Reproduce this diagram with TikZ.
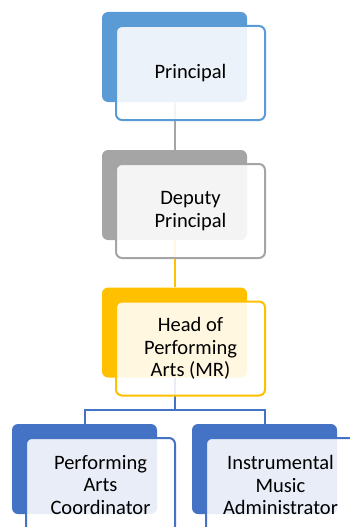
\documentclass[tikz,border=0pt]{standalone}
\usepackage{fontspec}
\setmainfont{Carlito}
\definecolor{prinBlue}{HTML}{5B9BD5}
\definecolor{depGray}{HTML}{A5A5A5}
\definecolor{headGold}{HTML}{FFC000}
\definecolor{staffBlue}{HTML}{4472C4}
\tikzset{
	back box/.style={rectangle, rounded corners=6, draw=none, fill=#1,
		minimum width=145, minimum height=90, inner sep=0},
	front box/.style={rectangle, rounded corners=6, draw=#1, line width=2,
		fill=white, fill opacity=0.88, text opacity=1,
		minimum width=149, minimum height=94, inner sep=0, align=center,
		font=\fontsize{20.5}{22.5}\selectfont},
	link/.style={draw=#1, line width=2}}

\begin{document}
\begin{tikzpicture}[x=1pt,y=1pt,yscale=-1,xscale=1]
	\useasboundingbox (0,0) rectangle (350,527);

	%Shape: back boxes
	\node[back box=prinBlue] (prinB) at (174.5,57) {};
	\node[back box=depGray] (depB) at (174.5,195) {};
	\node[back box=headGold] (headB) at (174.5,332.5) {};
	\node[back box=staffBlue] (pacB) at (84.5,469) {};
	\node[back box=staffBlue] (imaB) at (264.5,469) {};

	%Straight Lines
	\draw[link=depGray] (prinB.south) -- (depB.north);
	\draw[link=headGold] (depB.south) -- (headB.north);
	\coordinate (bar) at (174.5,410);
	\draw[link=staffBlue] (headB.south) -- (bar) -| (pacB.north);
	\draw[link=staffBlue] (bar) -| (imaB.north);

	% Text Node
	\node[front box=prinBlue] (prin) at (190.5,73) {Principal};
	% Text Node
	\node[front box=depGray] (dep) at (190.5,211) {Deputy\\Principal};
	% Text Node
	\node[front box=headGold] (head) at (190.5,348.5) {Head of\\Performing\\Arts (MR)};
	% Text Node
	\node[front box=staffBlue] (pac) at (100.5,485) {Performing\\Arts\\Coordinator};
	% Text Node
	\node[front box=staffBlue] (ima) at (280.5,485) {Instrumental\\Music\\Administrator};

\end{tikzpicture}
\end{document}
